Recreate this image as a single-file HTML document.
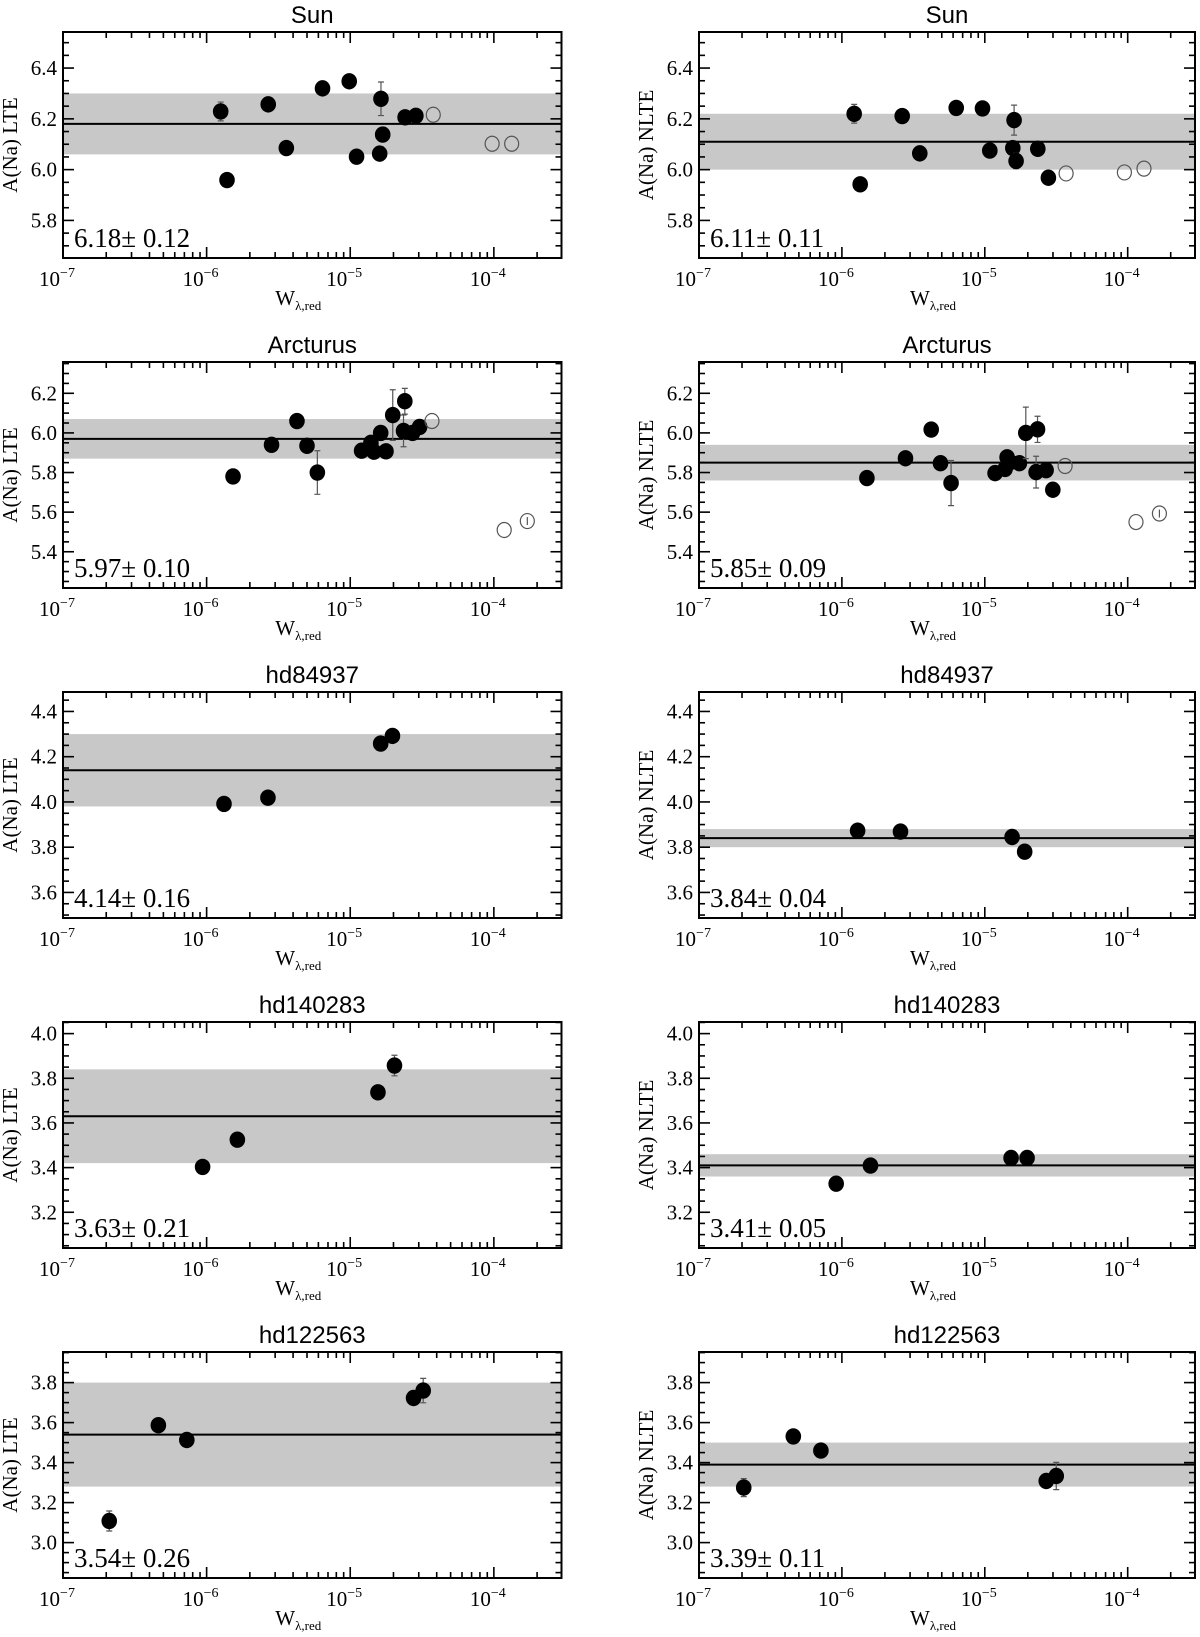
<!DOCTYPE html>
<html><head><meta charset="utf-8"><title>A(Na) vs W panels</title>
<style>
html,body{margin:0;padding:0;background:#fff;}
svg{display:block;}
</style></head>
<body>
<svg id="fig" width="1200" height="1637" viewBox="0 0 1200 1637" xmlns="http://www.w3.org/2000/svg"></svg>
<script>
// ---- data (log10 W_lambda,red ; A(Na) ; error) ----
const sunLteLogW = [-5.902,-5.858,-5.571,-5.445,-5.193,-5.007,-4.786,-4.956,-4.795,-4.774,-4.618,-4.543];
const sunLteAbund = [6.229,5.959,6.257,6.085,6.32,6.348,6.279,6.051,6.063,6.138,6.206,6.212];
const sunLteErr = [0.037,0,0,0,0,0,0.066,0,0,0.028,0,0];
const sunLteOpenLogW = [-4.422,-4.012,-3.876];
const sunLteOpenAbund = [6.216,6.102,6.102];
const sunLteOpenErr = [0,0,0];

const sunNlteLogW = [-5.914,-5.872,-5.578,-5.455,-5.200,-5.016,-4.795,-4.965,-4.804,-4.781,-4.629,-4.555];
const sunNlteAbund = [6.22,5.942,6.211,6.064,6.243,6.241,6.195,6.075,6.085,6.034,6.082,5.968];
const sunNlteErr = [0.037,0,0,0,0,0,0.059,0,0,0.03,0,0];
const sunNlteOpenLogW = [-4.431,-4.023,-3.886];
const sunNlteOpenAbund = [5.985,5.989,6.004];
const sunNlteOpenErr = [0,0,0];

const arcLteLogW = [-5.816,-5.548,-5.371,-5.301,-5.229,-4.921,-4.856,-4.835,-4.788,-4.751,-4.704,-4.620,-4.629,-4.566,-4.517];
const arcLteAbund = [5.78,5.94,6.06,5.935,5.80,5.91,5.95,5.905,6.00,5.907,6.09,6.16,6.01,6.00,6.03];
const arcLteErr = [0,0,0,0,0.11,0,0,0,0,0,0.128,0.065,0.08,0,0];
const arcLteOpenLogW = [-4.431,-3.928,-3.767];
const arcLteOpenAbund = [6.06,5.51,5.555];
const arcLteOpenErr = [0,0,0.02];

const arcNlteLogW = [-5.825,-5.555,-5.375,-5.310,-5.236,-4.928,-4.858,-4.844,-4.823,-4.758,-4.713,-4.631,-4.641,-4.571,-4.524];
const arcNlteAbund = [5.772,5.872,6.017,5.847,5.747,5.797,5.818,5.877,5.852,5.847,6.00,6.018,5.802,5.812,5.713];
const arcNlteErr = [0,0,0,0,0.114,0,0,0,0,0,0.13,0.066,0.08,0,0];
const arcNlteOpenLogW = [-4.438,-3.942,-3.778];
const arcNlteOpenAbund = [5.833,5.55,5.593];
const arcNlteOpenErr = [0,0,0.02];

const hd84LteLogW = [-5.879,-5.573,-4.788,-4.706];
const hd84LteAbund = [3.991,4.019,4.258,4.292];
const hd84LteErr = [0,0,0,0];
const hd84NlteLogW = [-5.890,-5.590,-4.809,-4.721];
const hd84NlteAbund = [3.873,3.869,3.845,3.78];
const hd84NlteErr = [0,0,0,0];

const hd140LteLogW = [-6.028,-5.786,-4.807,-4.692];
const hd140LteAbund = [3.403,3.525,3.737,3.857];
const hd140LteErr = [0,0,0,0.046];
const hd140NlteLogW = [-6.040,-5.800,-4.816,-4.704];
const hd140NlteAbund = [3.328,3.409,3.443,3.443];
const hd140NlteErr = [0,0,0,0];

const hd122LteLogW = [-6.678,-6.336,-6.138,-4.559,-4.492];
const hd122LteAbund = [3.108,3.587,3.513,3.723,3.76];
const hd122LteErr = [0.05,0,0,0,0.061];
const hd122NlteLogW = [-6.687,-6.340,-6.147,-4.570,-4.500];
const hd122NlteAbund = [3.275,3.531,3.460,3.308,3.333];
const hd122NlteErr = [0.045,0,0,0,0.068];

const empty = [];
const panelTitles = ["Sun","Sun","Arcturus","Arcturus","hd84937","hd84937","hd140283","hd140283","hd122563","hd122563"];
const panelMeans = [6.18,6.11,5.97,5.85,4.14,3.84,3.63,3.41,3.54,3.39];
const panelSigmas = [0.12,0.11,0.10,0.09,0.16,0.04,0.21,0.05,0.26,0.11];
const yMins = [5.652,5.652,5.217,5.217,3.487,3.487,3.04,3.04,2.823,2.823];
const yMaxs = [6.542,6.542,6.358,6.358,4.486,4.486,4.052,4.052,3.953,3.953];
const xTickExps = [-7,-6,-5,-4];
const logWMin = -7, logWMax = -3.529;

const filledSets = [
 [sunLteLogW,sunLteAbund,sunLteErr],[sunNlteLogW,sunNlteAbund,sunNlteErr],
 [arcLteLogW,arcLteAbund,arcLteErr],[arcNlteLogW,arcNlteAbund,arcNlteErr],
 [hd84LteLogW,hd84LteAbund,hd84LteErr],[hd84NlteLogW,hd84NlteAbund,hd84NlteErr],
 [hd140LteLogW,hd140LteAbund,hd140LteErr],[hd140NlteLogW,hd140NlteAbund,hd140NlteErr],
 [hd122LteLogW,hd122LteAbund,hd122LteErr],[hd122NlteLogW,hd122NlteAbund,hd122NlteErr]];
const openSets = [
 [sunLteOpenLogW,sunLteOpenAbund,sunLteOpenErr],[sunNlteOpenLogW,sunNlteOpenAbund,sunNlteOpenErr],
 [arcLteOpenLogW,arcLteOpenAbund,arcLteOpenErr],[arcNlteOpenLogW,arcNlteOpenAbund,arcNlteOpenErr],
 [empty,empty,empty],[empty,empty,empty],[empty,empty,empty],[empty,empty,empty],[empty,empty,empty],[empty,empty,empty]];

const SERIF = '"Liberation Serif", "DejaVu Serif", serif';
const SANS = '"Liberation Sans", "DejaVu Sans", sans-serif';
const NS = "http://www.w3.org/2000/svg";
const svg = document.getElementById("fig");
function mk(tag, attrs, parent){
  const e = document.createElementNS(NS, tag);
  for (const k in attrs) e.setAttribute(k, attrs[k]);
  (parent||svg).appendChild(e);
  return e;
}

for (let i = 0; i < 10; i++){
  const col = i % 2, row = Math.floor(i / 2);
  const L = col ? 699 : 63, R = col ? 1195 : 561.5;
  const T = 32 + row * 330, B = T + 226;
  const ymin = yMins[i], ymax = yMaxs[i];
  const xs = lw => L + (lw - logWMin) / (logWMax - logWMin) * (R - L);
  const ys = v => B - (v - ymin) / (ymax - ymin) * (B - T);
  const lte = col === 0;

  const g = mk("g", {});
  
  

  const clipId = "clip" + i;
  const cp = mk("clipPath", {id: clipId}, g);
  mk("rect", {x: L, y: T, width: R - L, height: B - T}, cp);

  const band = mk("rect", {x: L, y: ys(panelMeans[i] + panelSigmas[i]), width: R - L,
    height: ys(panelMeans[i] - panelSigmas[i]) - ys(panelMeans[i] + panelSigmas[i]), fill: "#c8c8c8"}, g);
  
  
  const ml = mk("line", {x1: L, x2: R, y1: ys(panelMeans[i]), y2: ys(panelMeans[i]), stroke: "#000", "stroke-width": 2}, g);
  
  

  const tk = mk("g", {stroke: "#000", "stroke-width": 1.6}, g);
  
  
  for (let k = Math.ceil(ymin / 0.05 - 1e-6); k * 0.05 <= ymax + 1e-9; k++){
    const v = k * 0.05, y = ys(v);
    const major = Math.abs(Math.round(v * 5) - v * 5) < 1e-6;
    const len = major ? 11 : 6;
    mk("line", {x1: L, x2: L + len, y1: y, y2: y}, tk);
    mk("line", {x1: R, x2: R - len, y1: y, y2: y}, tk);
    if (major){
      const t = mk("text", {x: L - 6, y: y + 7, "text-anchor": "end", "font-size": 21, "font-family": SERIF}, g);
      t.textContent = v.toFixed(1);
      
      
    }
  }
  for (let d = -7; d < -3; d++){
    for (let m = 1; m <= 9; m++){
      const lw = d + Math.log10(m);
      if (lw > logWMax) break;
      const x = xs(lw), len = m === 1 ? 11 : 6;
      mk("line", {x1: x, x2: x, y1: B, y2: B - len}, tk);
      mk("line", {x1: x, x2: x, y1: T, y2: T + len}, tk);
    }
  }
  xTickExps.forEach(e => {
    const t = mk("text", {x: xs(e) - 6, y: B + 28, "text-anchor": "middle", "font-size": 21, "font-family": SERIF}, g);
    
    
    t.appendChild(document.createTextNode("10"));
    const s = mk("tspan", {dy: -9, "font-size": 14}, t);
    s.textContent = "\u2212" + (-e);
  });

  const pts = mk("g", {"clip-path": "url(#" + clipId + ")"}, g);
  const [fx, fy, fe] = filledSets[i];
  fx.forEach((lw, j) => {
    const cx = xs(lw), cy = ys(fy[j]);
    if (fe[j] > 0){
      const y1 = ys(fy[j] + fe[j]), y2 = ys(fy[j] - fe[j]);
      const eb = mk("path", {d: `M${cx},${y1}V${y2}M${cx-3},${y1}H${cx+3}M${cx-3},${y2}H${cx+3}`, stroke: "#555", "stroke-width": 1.2, fill: "none"}, pts);
      
      
    }
    const c = mk("ellipse", {cx: cx, cy: cy, rx: 7.8, ry: 8.2, fill: "#000"}, pts);
    
    
  });
  const [ox, oy, oe] = openSets[i];
  ox.forEach((lw, j) => {
    const cx = xs(lw), cy = ys(oy[j]);
    if (oe[j] > 0){
      const y1 = ys(oy[j] + oe[j]), y2 = ys(oy[j] - oe[j]);
      const eb = mk("path", {d: `M${cx},${y1}V${y2}`, stroke: "#555", "stroke-width": 1.2}, pts);
      
      
    }
    const c = mk("ellipse", {cx: cx, cy: cy, rx: 7, ry: 7.5, fill: "none", stroke: "#555", "stroke-width": 1.2}, pts);
    
    
  });

  const fr = mk("rect", {x: L, y: T, width: R - L, height: B - T, fill: "none", stroke: "#000", "stroke-width": 2}, g);
  
  

  const ti = mk("text", {x: (L + R) / 2, y: T - 9, "text-anchor": "middle", "font-size": 24, "font-family": SANS}, g);
  ti.textContent = panelTitles[i];
  
  

  const yl = mk("text", {x: 0, y: 0, "text-anchor": "middle", "font-size": 21, "font-family": SERIF,
    transform: `translate(${L - 46},${(T + B) / 2}) rotate(-90)`}, g);
  yl.textContent = lte ? "A(Na) LTE" : "A(Na) NLTE";
  
  

  const xl = mk("text", {x: (L + R) / 2 - 14, y: B + 47, "text-anchor": "middle", "font-size": 21, "font-family": SERIF}, g);
  
  
  xl.appendChild(document.createTextNode("W"));
  const sub = mk("tspan", {dy: 5, "font-size": 13}, xl);
  sub.textContent = "\u03bb,red";

  const an = mk("text", {x: L + 11, y: B - 11, "font-size": 27, "font-family": SERIF}, g);
  an.textContent = panelMeans[i].toFixed(2) + "\u00b1 " + panelSigmas[i].toFixed(2);
  
  
}
</script>
</body></html>
